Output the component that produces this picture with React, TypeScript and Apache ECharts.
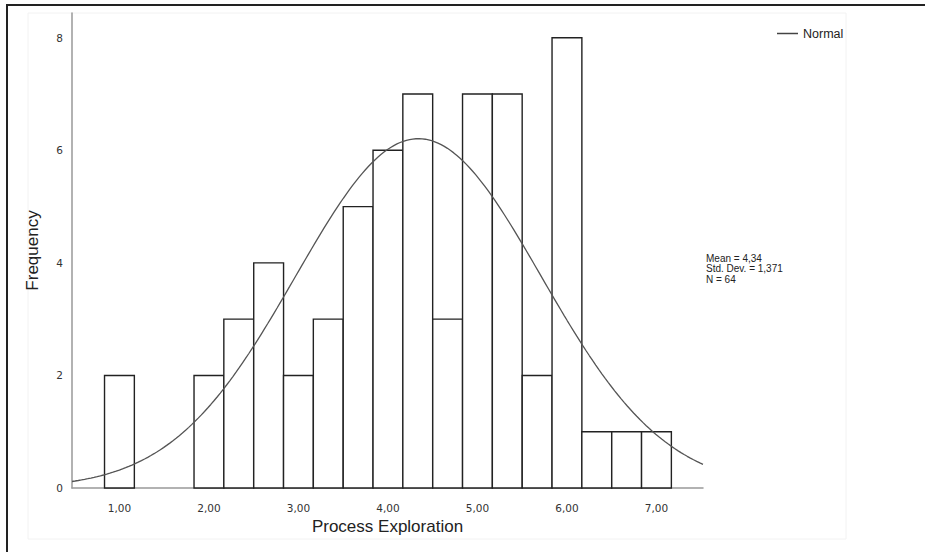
import React, { useEffect, useRef } from "react";
import * as echarts from "echarts";

// Histogram bins (centre of each bin, bin width 1/3) and frequencies
const binCenters = [1.0, 1.333, 1.667, 2.0, 2.333, 2.667, 3.0, 3.333, 3.667, 4.0, 4.333, 4.667, 5.0, 5.333, 5.667, 6.0, 6.333, 6.667, 7.0];
const frequencies = [2, 0, 0, 2, 3, 4, 2, 3, 5, 6, 7, 3, 7, 7, 2, 8, 1, 1, 1];
const binWidth = 0.3333;

// Fitted normal curve parameters (as shown in the chart)
const mean = 4.34;
const stdDev = 1.371;
const n = 64;

const xTicks = [1, 2, 3, 4, 5, 6, 7];
const yTicks = [0, 2, 4, 6, 8];
const statsLines = ["Mean = 4,34", "Std. Dev. = 1,371", "N = 64"];

const X_MIN = 0.47;
const X_MAX = 7.52;
const Y_MAX = 8.44;

export default function App() {
  const ref = useRef<HTMLDivElement>(null);

  useEffect(() => {
    if (!ref.current) return;
    const chart = echarts.init(ref.current, null, { renderer: "svg" });

    const curve: number[][] = [];
    const steps = 200;
    for (let i = 0; i <= steps; i++) {
      const x = X_MIN + ((X_MAX - X_MIN) * i) / steps;
      const z = (x - mean) / stdDev;
      const y = (n * binWidth * Math.exp(-0.5 * z * z)) / (stdDev * Math.sqrt(2 * Math.PI));
      curve.push([x, y]);
    }

    const barData = binCenters.map((c, i) => [c, frequencies[i]]);
    const font = "'Liberation Sans', Arial, sans-serif";
    const tickFont = "'DejaVu Sans', sans-serif";

    chart.setOption({
      animation: false,
      backgroundColor: "#ffffff",
      textStyle: { fontFamily: font },
      grid: { left: 72, right: 222, top: 13, bottom: 64, containLabel: false },
      legend: {
        data: [{ name: "Normal", icon: "rect" }],
        left: 772,
        top: 22,
        itemWidth: 21,
        itemHeight: 1.5,
        itemGap: 4,
        textStyle: { fontSize: 12.5, color: "#222", fontFamily: font },
      },
      xAxis: {
        type: "value",
        min: X_MIN,
        max: X_MAX,
        name: "Process Exploration",
        nameLocation: "middle",
        nameGap: 25,
        nameTextStyle: { fontSize: 17, color: "#222", fontFamily: font },
        axisLine: { show: true, lineStyle: { color: "#999", width: 1.5 } },
        axisTick: { show: false },
        splitLine: { show: false },
        axisLabel: {
          customValues: xTicks,
          formatter: (v: number) => v.toFixed(2).replace(".", ","),
          fontSize: 10.5,
          color: "#333",
          margin: 14,
          fontFamily: tickFont,
        },
      },
      yAxis: {
        type: "value",
        min: 0,
        max: Y_MAX,
        name: "Frequency",
        nameLocation: "middle",
        nameGap: 31,
        nameRotate: 90,
        nameTextStyle: { fontSize: 17, color: "#222", fontFamily: font },
        axisLine: { show: true, lineStyle: { color: "#999", width: 1.5 } },
        axisTick: { show: false },
        splitLine: { show: false },
        axisLabel: {
          customValues: yTicks,
          fontSize: 10.5,
          color: "#333",
          margin: 9,
          fontFamily: tickFont,
        },
      },
      series: [
        {
          name: "Histogram",
          type: "custom",
          data: barData,
          z: 2,
          renderItem: (params: any, api: any) => {
            const c = api.value(0);
            const f = api.value(1);
            if (!f) return null;
            const p1 = api.coord([c - binWidth / 2, f]);
            const p2 = api.coord([c + binWidth / 2, 0]);
            return {
              type: "rect",
              shape: { x: p1[0], y: p1[1], width: p2[0] - p1[0], height: p2[1] - p1[1] },
              style: { fill: "#ffffff", stroke: "#222", lineWidth: 1.4 },
            };
          },
        },
        {
          name: "Normal",
          type: "line",
          data: curve,
          showSymbol: false,
          smooth: false,
          z: 3,
          lineStyle: { color: "#555", width: 1.3 },
          itemStyle: { color: "#444" },
        },
      ],
      graphic: [
        {
          type: "rect",
          shape: { x: 28, y: 13, width: 818, height: 526 },
          style: { fill: "none", stroke: "#f2f2f2", lineWidth: 1 },
          z: -1,
        },
        {
          type: "line",
          shape: { x1: 6, y1: 5, x2: 925, y2: 5 },
          style: { stroke: "#222", lineWidth: 2 },
        },
        {
          type: "line",
          shape: { x1: 7, y1: 5, x2: 7, y2: 552 },
          style: { stroke: "#222", lineWidth: 2 },
        },
        {
          type: "text",
          left: 706,
          top: 253,
          style: {
            text: statsLines.join("\n"),
            fontSize: 10,
            lineHeight: 10.5,
            fill: "#222",
            fontFamily: font,
          },
        },
      ],
    });

    return () => chart.dispose();
  }, []);

  return (
    <div
      ref={ref}
      style={{ position: "fixed", left: 0, top: 0, width: 925, height: 552 }}
    />
  );
}
